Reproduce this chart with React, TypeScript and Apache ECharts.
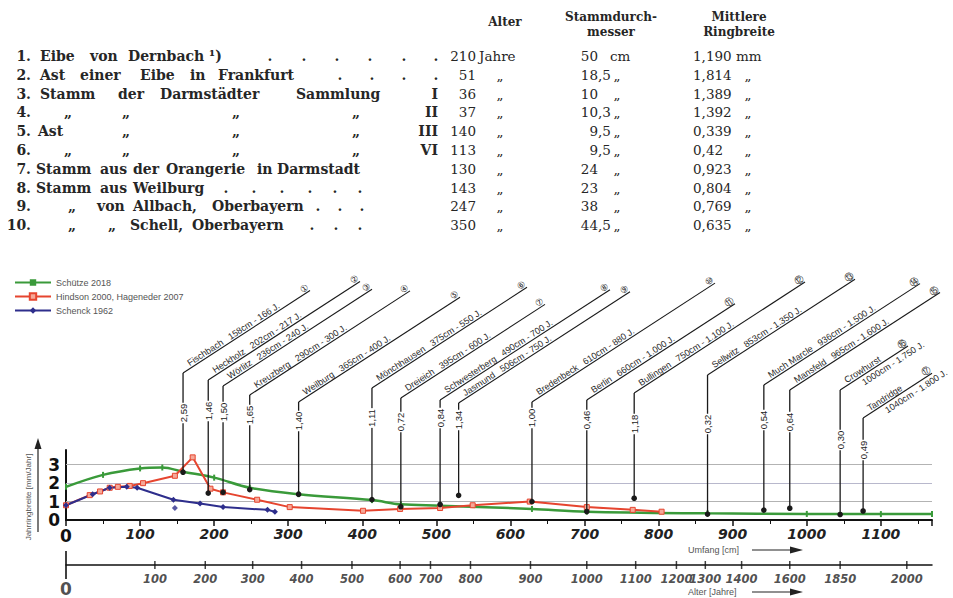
import React, { useEffect, useRef } from 'react';
import * as echarts from 'echarts';

// ---------------- table (top) ----------------
const headerAge = 'Alter';
const headerDiam = ['Stammdurch-', 'messer'];
const headerRing = ['Mittlere', 'Ringbreite'];
const rowNumbers = ['1.', '2.', '3.', '4.', '5.', '6.', '7.', '8.', '9.', '10.'];
const rowWords = [
  ['Eibe', 'von', 'Dernbach ¹)'],
  ['Ast', 'einer', 'Eibe', 'in', 'Frankfurt'],
  ['Stamm', 'der', 'Darmstädter', 'Sammlung'],
  ['„', '„', '„', '„'],
  ['Ast', '„', '„', '„'],
  ['„', '„', '„', '„'],
  ['Stamm', 'aus', 'der', 'Orangerie', 'in', 'Darmstadt'],
  ['Stamm', 'aus', 'Weilburg'],
  ['„', 'von', 'Allbach,', 'Oberbayern'],
  ['„', '„', 'Schell,', 'Oberbayern'],
];
const rowRoman = ['', '', 'I', 'II', 'III', 'VI', '', '', '', ''];
const ages = ['210', '51', '36', '37', '140', '113', '130', '143', '247', '350'];
const ageUnit = 'Jahre';
const diameters = ['50', '18,5', '10', '10,3', '9,5', '9,5', '24', '23', '38', '44,5'];
const diamUnit = 'cm';
const ringWidths = ['1,190', '1,814', '1,389', '1,392', '0,339', '0,42', '0,923', '0,804', '0,769', '0,635'];
const ringUnit = 'mm';
const ditto = '„';

// ---------------- chart data ----------------
const seriesNames = ['Schütze 2018', 'Hindson 2000, Hageneder 2007', 'Schenck 1962'];
// circumference [cm] and ring width [mm/Jahr]
const greenCirc = [0, 50, 100, 130, 158, 200, 248, 314, 413, 452, 505, 629, 703, 866, 1000, 1100, 1169];
const greenVal = [1.8, 2.45, 2.8, 2.85, 2.62, 2.3, 1.75, 1.4, 1.08, 0.85, 0.78, 0.6, 0.45, 0.36, 0.33, 0.32, 0.32];
const redCirc = [0, 32, 46, 59, 70, 86, 104, 147, 171, 195, 212, 258, 302, 401, 451, 505, 549, 626, 703, 765, 804];
const redVal = [0.8, 1.35, 1.55, 1.75, 1.8, 1.85, 2.0, 2.4, 3.4, 1.7, 1.5, 1.1, 0.7, 0.5, 0.6, 0.65, 0.8, 1.0, 0.7, 0.55, 0.45];
const blueCirc = [0, 36, 59, 82, 96, 145, 181, 212, 272, 282];
const blueVal = [0.8, 1.4, 1.75, 1.8, 1.75, 1.1, 0.9, 0.7, 0.55, 0.45];
const blueExtraCirc = [147];
const blueExtraVal = [0.65];

const treeCirc = [158, 192, 212, 248, 314, 413, 452, 505, 530, 629, 703, 767, 866, 942, 977, 1045, 1076];
const treeWidth = [2.59, 1.46, 1.5, 1.65, 1.4, 1.11, 0.72, 0.84, 1.34, 1.0, 0.46, 1.18, 0.32, 0.54, 0.64, 0.3, 0.49];
const treeNames = ['Fischbach', 'Heckholz', 'Wörlitz', 'Kreuzberg', 'Weilburg', 'Mönchhausen', 'Dreieich', 'Schwesterberg', 'Jasmund', 'Bredenbeck', 'Berlin', 'Bullingen', 'Sellwitz', 'Much Marcle', 'Mansfeld', 'Crowhurst', 'Tandridge'];
const treeDetails = ['158cm - 166 J.', '202cm - 217 J.', '236cm - 240 J.', '290cm - 300 J.', '365cm - 400 J.', '375cm - 550 J.', '395cm - 600 J.', '490cm - 700 J.', '506cm - 750 J.', '610cm - 880 J.', '660cm - 1.000 J.', '750cm - 1.100 J.', '853cm - 1.350 J.', '936cm - 1.500 J.', '965cm - 1.600 J.', '1000cm - 1.750 J.', '1040cm - 1.800 J.'];
const treeRefs = ['①', '②', '③', '④', '⑤', '⑥', '⑦', '⑧', '⑨', '⑩', '⑪', '⑫', '⑬', '⑭', '⑮', '⑯', '⑰'];

const ageTickLabels = ['0', '100', '200', '300', '400', '500', '600', '700', '800', '900', '1000', '1100', '1200', '1300', '1400', '1600', '1850', '2000'];
const ageTickCirc = [0, 120, 188, 252, 318, 386, 451, 492, 546, 627, 703, 769, 824, 863, 912, 977, 1045, 1135];

// ---------------- layout (pixels) ----------------
const rowY0 = 56;
const rowStep = 18.8;
const rowWordX = [
  [40, 90, 128],
  [40, 80, 140, 190, 218],
  [40, 118, 160, 296],
  [64, 122, 232, 352],
  [38, 122, 232, 352],
  [64, 122, 232, 352],
  [36, 100, 133, 166, 257, 277],
  [36, 100, 133],
  [68, 97, 133, 212],
  [68, 108, 130, 192],
];
const rowDotX = [
  [270, 304, 337, 370, 404, 436],
  [340, 372, 404, 436],
  [], [], [], [], [],
  [226, 254, 282, 310, 335, 360],
  [318, 340, 362],
  [312, 336, 360],
];
const leaderTop = [373, 380, 386, 395, 402, 388, 398, 400, 403, 402, 400, 393, 375, 385, 390, 390, 418];
const leaderEndX = [310, 360, 372, 410, 460, 527, 545, 610, 630, 715, 735, 805, 855, 920, 940, 908, 932];
const valueLabelY = [413, 411, 412, 415, 421, 418, 422, 418, 420, 418, 420, 424, 424, 420, 422, 440, 450];

const ANG = (33 * Math.PI) / 180;
const fmtDE = (v: number) => v.toFixed(2).replace('.', ',');

export default function App() {
  const ref = useRef<HTMLDivElement>(null);
  useEffect(() => {
    const chart = echarts.init(ref.current as HTMLDivElement, null, { renderer: 'svg' });
    const ink = '#262626';
    const serifB = 'bold 14px "DejaVu Serif", serif';
    const serif = '13.5px "DejaVu Serif", serif';
    const headFont = 'bold 12px "DejaVu Serif", serif';
    const sans = '"Liberation Sans", Arial, sans-serif';

    const txt = (text: string, x: number, y: number, font: string, align = 'left', extra: any = {}) => ({
      type: 'text', x, y, silent: true,
      style: { text, font, fill: ink, align, textAlign: align, verticalAlign: 'middle', textVerticalAlign: 'middle', ...extra },
    });

    const graphic: any[] = [];
    graphic.push(txt(headerAge, 505, 22, headFont, 'center'));
    graphic.push(txt(headerDiam[0], 611, 17, headFont, 'center'));
    graphic.push(txt(headerDiam[1], 611, 32, headFont, 'center'));
    graphic.push(txt(headerRing[0], 739, 17, headFont, 'center'));
    graphic.push(txt(headerRing[1], 739, 32, headFont, 'center'));

    rowNumbers.forEach((n, i) => {
      const y = rowY0 + i * rowStep;
      graphic.push(txt(n, 31, y, serifB, 'right'));
      rowWords[i].forEach((w, j) => graphic.push(txt(w, rowWordX[i][j], y, serifB)));
      rowDotX[i].forEach((x) => graphic.push(txt('.', x, y, serifB, 'center')));
      if (rowRoman[i]) graphic.push(txt(rowRoman[i], 438, y, serifB, 'right'));
      graphic.push(txt(ages[i], 476, y, serif, 'right'));
      graphic.push(i === 0 ? txt(ageUnit, 479, y, serif) : txt(ditto, 500, y, serif, 'center'));
      const [ip, fp] = diameters[i].split(',');
      graphic.push(txt(ip, 598, y, serif, 'right'));
      if (fp) graphic.push(txt(',' + fp, 598, y, serif));
      graphic.push(i === 0 ? txt(diamUnit, 610, y, serif) : txt(ditto, 617, y, serif, 'center'));
      graphic.push(txt(ringWidths[i], 693, y, serif));
      graphic.push(i === 0 ? txt(ringUnit, 736, y, serif) : txt(ditto, 748, y, serif, 'center'));
    });

    // axis titles and arrows
    const axisTitleFont = `9px ${sans}`;
    graphic.push({
      type: 'text', x: 28, y: 497, rotation: Math.PI / 2, silent: true,
      style: { text: 'Jahrringbreite [mm/Jahr]', font: `8px ${sans}`, fill: '#555', align: 'center', textAlign: 'center', verticalAlign: 'middle', textVerticalAlign: 'middle' },
    });
    graphic.push({ type: 'line', silent: true, shape: { x1: 38, y1: 532, x2: 38, y2: 446 }, style: { stroke: '#222', lineWidth: 1.2 } });
    graphic.push({ type: 'polygon', silent: true, shape: { points: [[34.5, 449], [41.5, 449], [38, 438]] }, style: { fill: '#222' } });
    graphic.push(txt('Umfang [cm]', 688, 550, axisTitleFont, 'left', { fill: '#555' }));
    graphic.push({ type: 'line', silent: true, shape: { x1: 752, y1: 550, x2: 792, y2: 550 }, style: { stroke: '#222', lineWidth: 1.2 } });
    graphic.push({ type: 'polygon', silent: true, shape: { points: [[790, 546.5], [790, 553.5], [803, 550]] }, style: { fill: '#222' } });
    graphic.push(txt('Alter [Jahre]', 688, 592, axisTitleFont, 'left', { fill: '#555' }));
    graphic.push({ type: 'line', silent: true, shape: { x1: 752, y1: 592, x2: 792, y2: 592 }, style: { stroke: '#222', lineWidth: 1.2 } });
    graphic.push({ type: 'polygon', silent: true, shape: { points: [[790, 588.5], [790, 595.5], [803, 592]] }, style: { fill: '#222' } });

    const zip = (a: number[], b: number[]) => a.map((v, i) => [v, b[i]]);
    const green = '#3a9a3a';
    const red = '#e6452f';
    const blue = '#2e2e8c';
    const labelFont = `9px "Liberation Sans Narrow", ${sans}`;

    const option: any = {
      animation: false,
      backgroundColor: '#ffffff',
      graphic,
      legend: {
        data: seriesNames,
        orient: 'vertical',
        left: 14,
        top: 278,
        itemWidth: 36,
        itemHeight: 8,
        itemGap: 5,
        padding: 0,
        textStyle: { fontSize: 9, color: '#555', fontFamily: '"Liberation Sans Narrow", "Liberation Sans", sans-serif' },
      },
      grid: [
        { left: 66, right: 21, top: 450, bottom: 78 },
        { left: 66, right: 21, top: 555, bottom: 33 },
      ],
      xAxis: [
        {
          type: 'value', gridIndex: 0, min: 0, max: 1169, interval: 100,
          axisLine: { lineStyle: { color: '#111', width: 2 } },
          axisTick: { show: true, length: 6, lineStyle: { color: '#111', width: 1.5 } },
          minorTick: { show: true, splitNumber: 2, length: 4, lineStyle: { color: '#111', width: 1 } },
          splitLine: { show: false },
          axisLabel: {
            margin: 7,
            formatter: (v: number) => (v === 0 ? '{z|0}' : v % 100 === 0 && v <= 1100 ? String(v) : ''),
            rich: { z: { fontSize: 17, fontStyle: 'normal', fontWeight: 'bold', color: '#111' } },
            fontStyle: 'italic', fontWeight: 'bold', fontSize: 14, color: '#222', fontFamily: '"DejaVu Sans", sans-serif',
          },
        },
        {
          type: 'value', gridIndex: 1, min: 0, max: 1169, interval: 100,
          axisLine: { lineStyle: { color: '#111', width: 1.5 } },
          axisTick: { show: false },
          axisLabel: { show: false },
          splitLine: { show: false },
        },
      ],
      yAxis: [
        {
          type: 'value', gridIndex: 0, min: 0, max: 3.8, interval: 1,
          axisLine: { show: true, lineStyle: { color: '#111', width: 2 } },
          axisTick: { show: false },
          splitLine: { show: false },
          axisLabel: {
            margin: 6,
            formatter: (v: number) => (Number.isInteger(v) ? String(v) : ''),
            fontSize: 17, fontWeight: 'bold', color: '#111', fontFamily: '"DejaVu Sans", sans-serif',
          },
        },
        { type: 'value', gridIndex: 1, min: 0, max: 1, show: false },
      ],
      series: [
        {
          name: seriesNames[0], type: 'line', xAxisIndex: 0, yAxisIndex: 0,
          data: zip(greenCirc, greenVal), smooth: 0.35,
          symbol: 'rect', symbolSize: [2, 6],
          lineStyle: { color: green, width: 2.5 }, itemStyle: { color: green },
          z: 3,
          markLine: {
            silent: true, symbol: ['none', 'none'], label: { show: false },
            lineStyle: { color: '#b3b3b3', width: 1, type: 'solid' },
            data: [{ yAxis: 1 }, { yAxis: 2, lineStyle: { color: '#b8b8cc', width: 1, type: 'solid' } }, { yAxis: 3 }],
            z: 1,
          },
        },
        {
          name: seriesNames[1], type: 'line', xAxisIndex: 0, yAxisIndex: 0,
          data: zip(redCirc, redVal),
          symbol: 'rect', symbolSize: 5,
          lineStyle: { color: red, width: 2 },
          itemStyle: { color: '#f5a898', borderColor: red, borderWidth: 1 },
          z: 4,
        },
        {
          name: seriesNames[2], type: 'line', xAxisIndex: 0, yAxisIndex: 0,
          data: zip(blueCirc, blueVal),
          symbol: 'diamond', symbolSize: 6,
          lineStyle: { color: blue, width: 2 }, itemStyle: { color: blue },
          z: 4,
        },
        {
          name: seriesNames[2], type: 'scatter', xAxisIndex: 0, yAxisIndex: 0,
          data: zip(blueExtraCirc, blueExtraVal),
          symbol: 'diamond', symbolSize: 6, itemStyle: { color: blue }, z: 4,
        },
        {
          name: 'Bäume', type: 'custom', xAxisIndex: 0, yAxisIndex: 0, clip: false, z: 10,
          data: zip(treeCirc, treeWidth),
          renderItem: (params: any, api: any) => {
            const i = params.dataIndex;
            const p = api.coord([api.value(0), api.value(1)]);
            const x = p[0];
            const y = p[1];
            const top = leaderTop[i];
            const ex = leaderEndX[i];
            const ey = top - (ex - x) * Math.tan(ANG);
            const c = Math.cos(ANG);
            const s = Math.sin(ANG);
            const sx = x + 9 * c;
            const sy = top - 9 * s;
            const stroke = '#1a1a1a';
            const split = i >= 15;
            const children: any[] = [
              { type: 'line', shape: { x1: x, y1: y, x2: x, y2: top }, style: { stroke, lineWidth: 1.3 } },
              { type: 'line', shape: { x1: x, y1: top, x2: ex, y2: ey }, style: { stroke, lineWidth: 1.1 } },
              { type: 'circle', shape: { cx: x, cy: y, r: 2.8 }, style: { fill: stroke } },
              {
                type: 'text', x, y: valueLabelY[i], rotation: Math.PI / 2,
                style: { text: fmtDE(treeWidth[i]), font: `9.5px ${sans}`, fill: '#222', align: 'center', verticalAlign: 'middle', backgroundColor: '#ffffff', padding: [1, 1] },
              },
              {
                type: 'text', x: sx, y: sy - 0.5, rotation: ANG,
                style: { text: split ? treeNames[i] : `${treeNames[i]}   ${treeDetails[i]}`, font: labelFont, fill: '#2a2a2a', align: 'left', verticalAlign: 'bottom' },
              },
              {
                type: 'text', x: ex, y: ey - 0.5, rotation: ANG,
                style: { text: treeRefs[i], font: `9px "DejaVu Sans", sans-serif`, fill: '#2a2a2a', align: 'right', verticalAlign: 'bottom' },
              },
            ];
            if (split) {
              children.push({
                type: 'text', x: sx + 14 * c + 2 * s, y: sy - 14 * s + 2 * c, rotation: ANG,
                style: { text: treeDetails[i], font: labelFont, fill: '#2a2a2a', align: 'left', verticalAlign: 'top' },
              });
            }
            return { type: 'group', children };
          },
        },
        {
          name: 'Alter', type: 'scatter', xAxisIndex: 1, yAxisIndex: 1, clip: false,
          data: ageTickCirc.map((c, i) => ({
            value: [c, 0],
            label: i === 0 ? { fontSize: 17, fontStyle: 'normal', distance: 1 } : undefined,
          })),
          symbol: 'rect',
          symbolSize: (v: number[]) => (v[0] === 0 ? [2, 28] : [1.5, 8]),
          itemStyle: { color: '#111' },
          label: {
            show: true, position: 'bottom', distance: 4,
            formatter: (p: any) => ageTickLabels[p.dataIndex],
            fontStyle: 'italic', fontWeight: 'bold', fontSize: 11.5, color: '#222', fontFamily: '"DejaVu Sans", sans-serif',
          },
        },
      ],
    };
    chart.setOption(option);
    return () => chart.dispose();
  }, []);

  return (
    <div
      ref={ref}
      style={{ position: 'fixed', left: 0, top: 0, width: 953, height: 598, background: '#fff' }}
    />
  );
}
